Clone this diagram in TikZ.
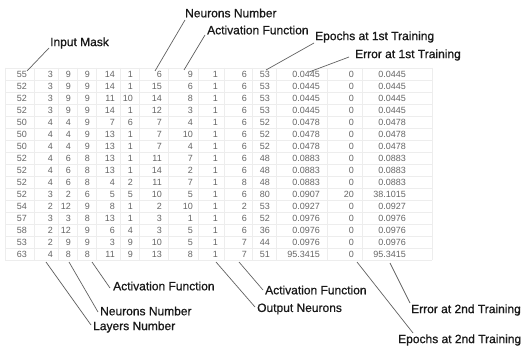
\documentclass[tikz,border=0pt]{standalone}
\usepackage{fontspec}
\setmainfont{Liberation Sans}
\newfontfamily\lblfont[FakeBold=0.8]{Liberation Sans}
\begin{document}
\begin{tikzpicture}[x=1pt,y=-1pt,
  cell/.style={anchor=east,inner sep=0pt,font=\fontsize{9}{10}\selectfont,text=black!60},
  lbl/.style={anchor=west,inner sep=0pt,font=\lblfont\fontsize{12}{14}\selectfont,text=black!90},
  leader/.style={draw=black!62,line width=0.7pt},
  grid/.style={draw=black!7,line width=0.5pt}]
\useasboundingbox[fill=white] (0,0) rectangle (524,350);
% faint grid
\foreach \k in {0,...,16} \draw[grid] (5,{68+\k*12}) -- (432,{68+\k*12});
\foreach \gx in {5,34,58,77,96,120,139,168,198,224,252,276,327,362,432}
  \draw[grid] (\gx,68) -- (\gx,260);
% table
\def\colx{{27,53,71,90,115,133,162,193,218,247,270,320,354,406}}
\foreach \rowdata [count=\r] in {
 {55,3,9,9,14,1,6,9,1,6,53,0.0445,0,0.0445},
 {52,3,9,9,14,1,15,6,1,6,53,0.0445,0,0.0445},
 {52,3,9,9,11,10,14,8,1,6,53,0.0445,0,0.0445},
 {52,3,9,9,14,1,12,3,1,6,53,0.0445,0,0.0445},
 {50,4,4,9,7,6,7,4,1,6,52,0.0478,0,0.0478},
 {50,4,4,9,13,1,7,10,1,6,52,0.0478,0,0.0478},
 {50,4,4,9,13,1,7,4,1,6,52,0.0478,0,0.0478},
 {52,4,6,8,13,1,11,7,1,6,48,0.0883,0,0.0883},
 {52,4,6,8,13,1,14,2,1,6,48,0.0883,0,0.0883},
 {52,4,6,8,4,2,11,7,1,8,48,0.0883,0,0.0883},
 {52,3,2,6,5,5,10,5,1,6,80,0.0907,20,38.1015},
 {54,2,12,9,8,1,2,10,1,2,53,0.0927,0,0.0927},
 {57,3,3,8,13,1,3,1,1,6,52,0.0976,0,0.0976},
 {58,2,12,9,6,4,3,5,1,6,36,0.0976,0,0.0976},
 {53,2,9,9,3,9,10,5,1,7,44,0.0976,0,0.0976},
 {63,4,8,8,11,9,13,8,1,7,51,95.3415,0,95.3415}}
{
  \foreach \v [count=\c] in \rowdata {
    \pgfmathsetmacro{\xx}{\colx[\c-1]}
    \node[cell] (c-\r-\c) at (\xx,{74+(\r-1)*12}) {\v};
  }
}
% top labels
\node[lbl] (inputmask) at (50,43) {Input Mask};
\node[lbl] (neurtop) at (185,13) {Neurons Number};
\node[lbl] (acttop) at (207,30) {Activation Function};
\node[lbl] (ep1) at (315,37) {Epochs at 1st Training};
\node[lbl] (er1) at (355,55) {Error at 1st Training};
% bottom labels
\node[lbl] (actbot) at (113,286) {Activation Function};
\node[lbl] (neurbot) at (100,311) {Neurons Number};
\node[lbl] (layers) at (93,327) {Layers Number};
\node[lbl] (actout) at (265,290) {Activation Function};
\node[lbl] (outn) at (257,309) {Output Neurons};
\node[lbl] (er2) at (411,310) {Error at 2nd Training};
\node[lbl] (ep2) at (398,340) {Epochs at 2nd Training};
% leader coordinates
\coordinate (s-im) at (27,71);   \coordinate (e-im) at (49,48);
\coordinate (s-nt) at (155,71);  \coordinate (e-nt) at (185,20);
\coordinate (s-at) at (184,70);  \coordinate (e-at) at (205,35);
\coordinate (s-e1) at (266,70);  \coordinate (e-e1) at (314,43);
\coordinate (s-r1) at (309,72);  \coordinate (e-r1) at (349,57);
\coordinate (s-ly) at (46,262);  \coordinate (e-ly) at (91,325);
\coordinate (s-nb) at (69,262);  \coordinate (e-nb) at (98,312);
\coordinate (s-ab) at (92,262);  \coordinate (e-ab) at (110,288);
\coordinate (s-on) at (216,262); \coordinate (e-on) at (255,307);
\coordinate (s-ao) at (239,262); \coordinate (e-ao) at (263,290);
\coordinate (s-e2) at (357,262); \coordinate (e-e2) at (413,333);
\coordinate (s-r2) at (390,263); \coordinate (e-r2) at (410,303);
\foreach \a in {im,nt,at,e1,r1,ly,nb,ab,on,ao,e2,r2}
  \draw[leader] (s-\a) -- (e-\a);
\end{tikzpicture}
\end{document}
